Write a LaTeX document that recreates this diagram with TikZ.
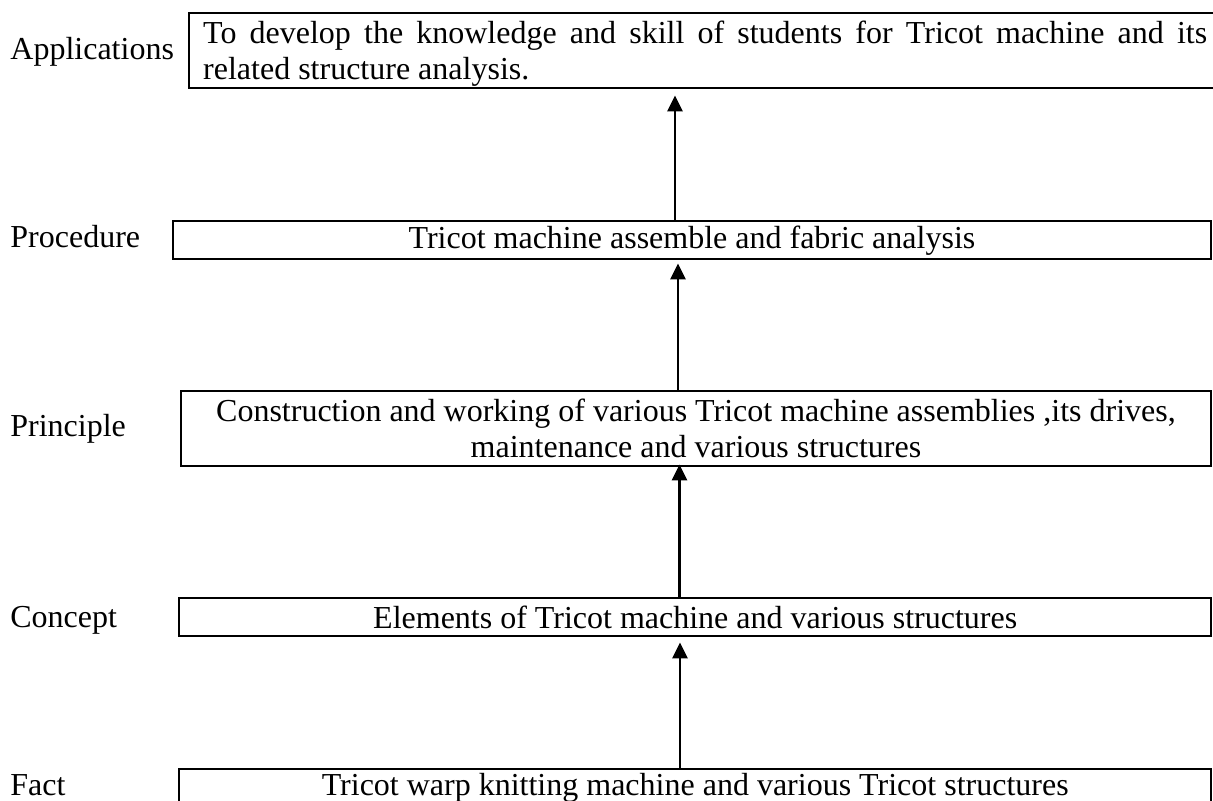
\documentclass[tikz,border=0pt]{standalone}
\usepackage{fontspec}
\setmainfont{Liberation Serif}
\usetikzlibrary{arrows.meta}
\begin{document}
\begin{tikzpicture}[x=0.5pt,y=-0.5pt,
  txt/.style={font=\fontsize{16pt}{18pt}\selectfont},
  lbl/.style={txt,anchor=base west,inner sep=0pt},
  box/.style={txt,draw,line width=1.2pt,rectangle,anchor=north west,inner ysep=1pt},
  arr/.style={line width=1.3pt,-{Triangle[width=7.5pt,length=8pt]}}]
\useasboundingbox (0,0) rectangle (1213,801);
\clip (0,0) rectangle (1213,801);
% boxes
\node[box,inner xsep=7.25pt,inner ysep=0.5pt,text width=502pt,align=justify,minimum height=37.5pt] (app) at (187.5,12)
  {\rule{0pt}{14pt}To develop the knowledge and skill of students for Tricot machine and its\linebreak related structure analysis.};
\node[box,minimum width=519.25pt,minimum height=19pt] (proc) at (171.5,220)
  {Tricot machine assemble and fabric analysis};
\node[box,minimum width=515.25pt,minimum height=37.5pt,align=center] (prin) at (179.5,390)
  {Construction and working of various Tricot machine assemblies ,its drives,\\maintenance and various structures};
\node[box,minimum width=516pt,minimum height=19pt] (conc) at (178,597)
  {Elements of Tricot machine and various structures};
\node[box,minimum width=516pt,minimum height=18.5pt] (fact) at (178,768)
  {Tricot warp knitting machine and various Tricot structures};
% labels
\node[lbl] (lapp) at (10,60) {Applications};
\node[lbl] (lproc) at (10,248) {Procedure};
\node[lbl] (lprin) at (10,437) {Principle};
\node[lbl] (lconc) at (10,627) {Concept};
\node[lbl] (lfact) at (10,795) {Fact};
% arrow columns
\coordinate (c1) at (675,0);
\coordinate (c2) at (678,0);
\coordinate (c3) at (679.5,0);
\coordinate (c4) at (680,0);
\draw[arr,shorten >=3pt] (proc.north -| c1) -- (app.south -| c1);
\draw[arr,shorten >=1.5pt] (prin.north -| c2) -- (proc.south -| c2);
\draw[arr,shorten >=-1.5pt] (conc.north -| c3) -- (prin.south -| c3);
\draw[arr,shorten >=2.5pt] (fact.north -| c4) -- (conc.south -| c4);
\end{tikzpicture}
\end{document}
